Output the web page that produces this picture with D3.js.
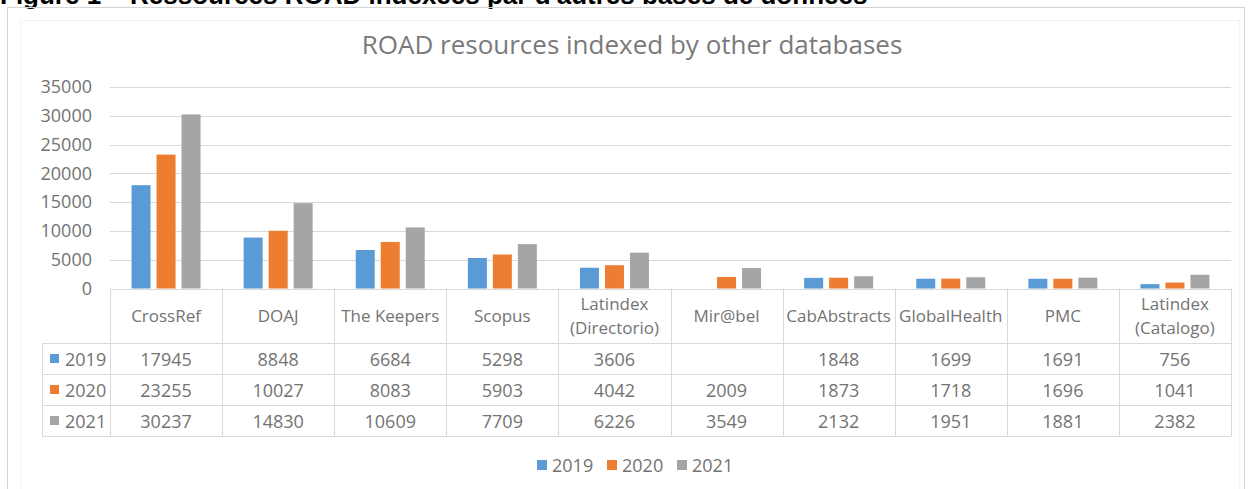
<!DOCTYPE html>
<html>
<head>
<meta charset="utf-8">
<script src="https://cdn.jsdelivr.net/npm/d3@7"></script>
<style>
  html, body { margin: 0; padding: 0; background: #fff; }
  svg { display: block; }
  text { font-family: "Open Sans", sans-serif; fill: #737373; }
</style>
</head>
<body>
<div id="chart"></div>
<script>
const heading = "Figure 1 – Ressources ROAD indexées par d'autres bases de données";
const title = 'ROAD resources indexed by other databases';
const categories = [
  ['CrossRef'], ['DOAJ'], ['The Keepers'], ['Scopus'], ['Latindex', '(Directorio)'],
  ['Mir@bel'], ['CabAbstracts'], ['GlobalHealth'], ['PMC'], ['Latindex', '(Catalogo)']
];
const years = ['2019', '2020', '2021'];
const values2019 = [17945, 8848, 6684, 5298, 3606, null, 1848, 1699, 1691, 756];
const values2020 = [23255, 10027, 8083, 5903, 4042, 2009, 1873, 1718, 1696, 1041];
const values2021 = [30237, 14830, 10609, 7709, 6226, 3549, 2132, 1951, 1881, 2382];
const yTicks = [0, 5000, 10000, 15000, 20000, 25000, 30000, 35000];
const colors = ['#5B9BD5', '#ED7D31', '#A5A5A5'];

const series = [values2019, values2020, values2021];
const W = 1260, H = 489;
const plot = { left: 110, right: 1231, top: 87, bottom: 288.5 };
const table = { legendLeft: 42, headerBottom: 343, rowH: 31 };

const svg = d3.select('#chart').append('svg').attr('width', W).attr('height', H);

// page heading, cut off by the top of the picture
svg.append('text').attr('x', 0).attr('y', 4)
  .style('font-family', '"Liberation Sans", Arial, sans-serif')
  .style('font-weight', 'bold').style('font-size', '26px').style('fill', '#000')
  .text(heading);

// chart frame
svg.append('rect').attr('x', 7.5).attr('y', 7.5).attr('width', 1237).attr('height', 500)
  .attr('fill', 'none').attr('stroke', '#d4d4d4');
svg.append('rect').attr('x', 20.5).attr('y', 20.5).attr('width', 1219).attr('height', 480)
  .attr('fill', 'none').attr('stroke', '#f3f3f3');

svg.append('text').attr('x', 632).attr('y', 54).attr('text-anchor', 'middle')
  .style('font-size', '26px').style('fill', '#7a7a7a').text(title);

const x = d3.scaleBand().domain(d3.range(categories.length)).range([plot.left, plot.right]);
const groupW = 69;
const xSub = d3.scaleBand().domain(d3.range(years.length)).range([0, groupW]).paddingInner(0.24);
const y = d3.scaleLinear().domain([0, 35000]).range([plot.bottom, plot.top]);

// gridlines
svg.append('g').selectAll('line').data(yTicks.slice(1)).join('line')
  .attr('x1', plot.left).attr('x2', plot.right)
  .attr('y1', d => Math.round(y(d)) + 0.5).attr('y2', d => Math.round(y(d)) + 0.5)
  .attr('stroke', '#d9d9d9');

// y axis labels
const yAxis = svg.append('g').attr('transform', `translate(${plot.left},0)`)
  .call(d3.axisLeft(y).tickValues(yTicks).tickSize(0).tickPadding(18).tickFormat(d3.format('d')));
yAxis.select('.domain').remove();
yAxis.selectAll('text').style('font-size', '18px').style('fill', '#737373')
  .style('font-family', '"Open Sans", sans-serif');

// bars
series.forEach((vals, si) => {
  svg.append('g').selectAll('rect')
    .data(vals.map((v, i) => ({ v, i })).filter(d => d.v != null))
    .join('rect')
    .attr('x', d => x(d.i) + (x.bandwidth() - groupW) / 2 + xSub(si))
    .attr('width', xSub.bandwidth())
    .attr('y', d => y(d.v))
    .attr('height', d => y(0) - y(d.v))
    .attr('fill', colors[si]);
});

// data table
const tb = svg.append('g').attr('stroke', '#d9d9d9').attr('fill', 'none');
const tableBottom = table.headerBottom + table.rowH * years.length;
tb.append('line').attr('x1', plot.left).attr('x2', plot.right)
  .attr('y1', Math.round(y(0)) + 0.5).attr('y2', Math.round(y(0)) + 0.5);
d3.range(years.length + 1).forEach(r => {
  const yy = table.headerBottom + r * table.rowH + 0.5;
  tb.append('line').attr('x1', table.legendLeft).attr('x2', plot.right).attr('y1', yy).attr('y2', yy);
});
tb.append('line').attr('x1', table.legendLeft + 0.5).attr('x2', table.legendLeft + 0.5)
  .attr('y1', table.headerBottom).attr('y2', tableBottom);
d3.range(categories.length + 1).forEach(i => {
  const xx = Math.round(i < categories.length ? x(i) : plot.right) + 0.5;
  tb.append('line').attr('x1', xx).attr('x2', xx).attr('y1', y(0)).attr('y2', tableBottom);
});

// category headers
categories.forEach((lines, i) => {
  const cx = x(i) + x.bandwidth() / 2;
  const mid = (y(0) + table.headerBottom) / 2;
  lines.forEach((ln, k) => {
    svg.append('text').attr('x', cx)
      .attr('y', mid + (k - (lines.length - 1) / 2) * 24)
      .attr('text-anchor', 'middle').attr('dominant-baseline', 'central')
      .style('font-size', '17px').text(ln);
  });
});

// rows
series.forEach((vals, si) => {
  const cy = table.headerBottom + table.rowH * (si + 0.5);
  svg.append('rect').attr('x', 50).attr('y', cy - 4.5).attr('width', 9).attr('height', 9)
    .attr('fill', colors[si]);
  svg.append('text').attr('x', 65).attr('y', cy).attr('dominant-baseline', 'central')
    .style('font-size', '18px').text(years[si]);
  vals.forEach((v, i) => {
    if (v == null) return;
    svg.append('text').attr('x', x(i) + x.bandwidth() / 2).attr('y', cy)
      .attr('text-anchor', 'middle').attr('dominant-baseline', 'central')
      .style('font-size', '18px').text(v);
  });
});

// legend
const legendX = [537, 607, 677];
years.forEach((yr, si) => {
  svg.append('rect').attr('x', legendX[si]).attr('y', 460).attr('width', 10).attr('height', 10)
    .attr('fill', colors[si]);
  svg.append('text').attr('x', legendX[si] + 15).attr('y', 465).attr('dominant-baseline', 'central')
    .style('font-size', '18px').text(yr);
});
</script>
</body>
</html>
